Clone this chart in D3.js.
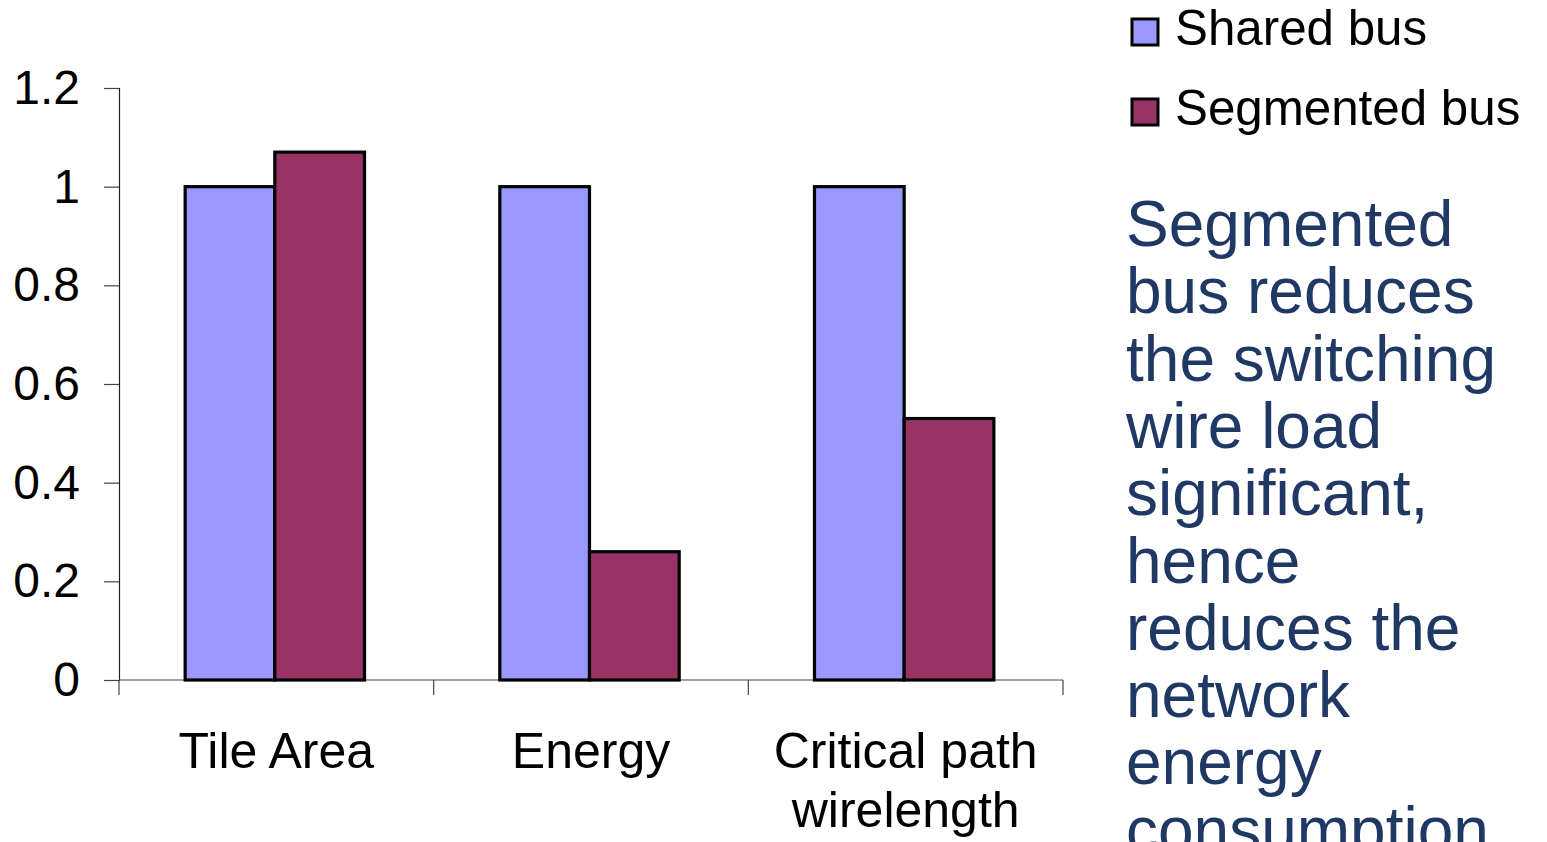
<!DOCTYPE html>
<html>
<head>
<meta charset="utf-8">
<script src="https://cdn.jsdelivr.net/npm/d3@7/dist/d3.min.js"></script>
<style>
  html, body { margin: 0; padding: 0; background: #fff; overflow: hidden; }
  svg { display: block; font-family: Arial, "Liberation Sans", sans-serif; }
</style>
</head>
<body>
<svg id="chart" width="1547" height="842"></svg>
<script>
// Normalised comparison of shared vs segmented bus
const categories = ["Tile Area", "Energy", "Critical path\nwirelength"];
const seriesNames = ["Shared bus", "Segmented bus"];
const sharedBus = [1.0, 1.0, 1.0];
const segmentedBus = [1.07, 0.26, 0.53];
const yTicks = [0, 0.2, 0.4, 0.6, 0.8, 1, 1.2];
const seriesColors = ["#9999FF", "#993366"];
const noteLines = [
  "Segmented", "bus reduces", "the switching", "wire load",
  "significant,", "hence", "reduces the", "network", "energy", "consumption"
];

const svg = d3.select("#chart");
const plot = { left: 119, right: 1063, top: 88, bottom: 680 };

const y = d3.scaleLinear().domain([0, 1.2]).range([plot.bottom, plot.top]);

const pad = 0.43;
const x0 = d3.scaleBand()
  .domain(categories)
  .range([plot.left, plot.right])
  .paddingInner(pad)
  .paddingOuter(pad / 2);
const x1 = d3.scaleBand()
  .domain(seriesNames)
  .range([0, x0.bandwidth()]);
const color = d3.scaleOrdinal().domain(seriesNames).range(seriesColors);

const rows = categories.map((c, i) => ({
  cat: c,
  vals: [
    { name: seriesNames[0], v: sharedBus[i] },
    { name: seriesNames[1], v: segmentedBus[i] }
  ]
}));

// Y axis
const yAxis = svg.append("g")
  .attr("transform", `translate(${plot.left},0)`)
  .call(d3.axisLeft(y).tickValues(yTicks).tickSize(15).tickPadding(24)
    .tickFormat(d => d3.format("")(d)));
yAxis.select(".domain").attr("stroke", "#222").attr("stroke-width", 1.2);
yAxis.selectAll(".tick line").attr("stroke", "#444").attr("stroke-width", 1.2);
yAxis.selectAll(".tick text")
  .attr("font-size", 48).attr("fill", "#000")
  .attr("font-family", "Arial, 'Liberation Sans', sans-serif");

// X axis line with ticks on category boundaries
const step = x0.step();
const boundaries = d3.range(categories.length + 1).map(i => plot.left + i * step);
const xAxisG = svg.append("g");
xAxisG.append("line")
  .attr("x1", plot.left).attr("x2", plot.right)
  .attr("y1", y(0)).attr("y2", y(0))
  .attr("stroke", "#444").attr("stroke-width", 1.2);
xAxisG.selectAll("line.tk").data(boundaries).join("line")
  .attr("class", "tk")
  .attr("x1", d => d).attr("x2", d => d)
  .attr("y1", y(0)).attr("y2", y(0) + 15)
  .attr("stroke", "#444").attr("stroke-width", 1.2);

// Category labels
categories.forEach(c => {
  const cx = x0(c) + x0.bandwidth() / 2;
  const lines = c.split("\n");
  const t = xAxisG.append("text")
    .attr("text-anchor", "middle")
    .attr("font-size", 50).attr("fill", "#000");
  lines.forEach((ln, k) => {
    t.append("tspan").attr("x", cx).attr("y", 768 + k * 59).text(ln);
  });
});

// Bars
const groups = svg.append("g").selectAll("g").data(rows).join("g")
  .attr("transform", d => `translate(${x0(d.cat) - 1.5},0)`);
groups.selectAll("rect").data(d => d.vals).join("rect")
  .attr("x", d => x1(d.name))
  .attr("width", x1.bandwidth())
  .attr("y", d => y(d.v))
  .attr("height", d => y(0) - y(d.v))
  .attr("fill", d => color(d.name))
  .attr("stroke", "#000")
  .attr("stroke-width", 3.2);

// Legend
const legend = svg.append("g");
seriesNames.forEach((s, i) => {
  const ly = 32 + i * 80;
  legend.append("rect")
    .attr("x", 1132).attr("y", ly - 13)
    .attr("width", 26).attr("height", 26)
    .attr("fill", color(s)).attr("stroke", "#000").attr("stroke-width", 3);
  legend.append("text")
    .attr("x", 1175).attr("y", ly + 13)
    .attr("font-size", 49.3).attr("fill", "#000")
    .text(s);
});

// Side note
const note = svg.append("text")
  .attr("font-size", 64).attr("fill", "#203864");
noteLines.forEach((ln, k) => {
  note.append("tspan").attr("x", 1126).attr("y", 246 + k * 67.3).text(ln);
});
</script>
</body>
</html>
